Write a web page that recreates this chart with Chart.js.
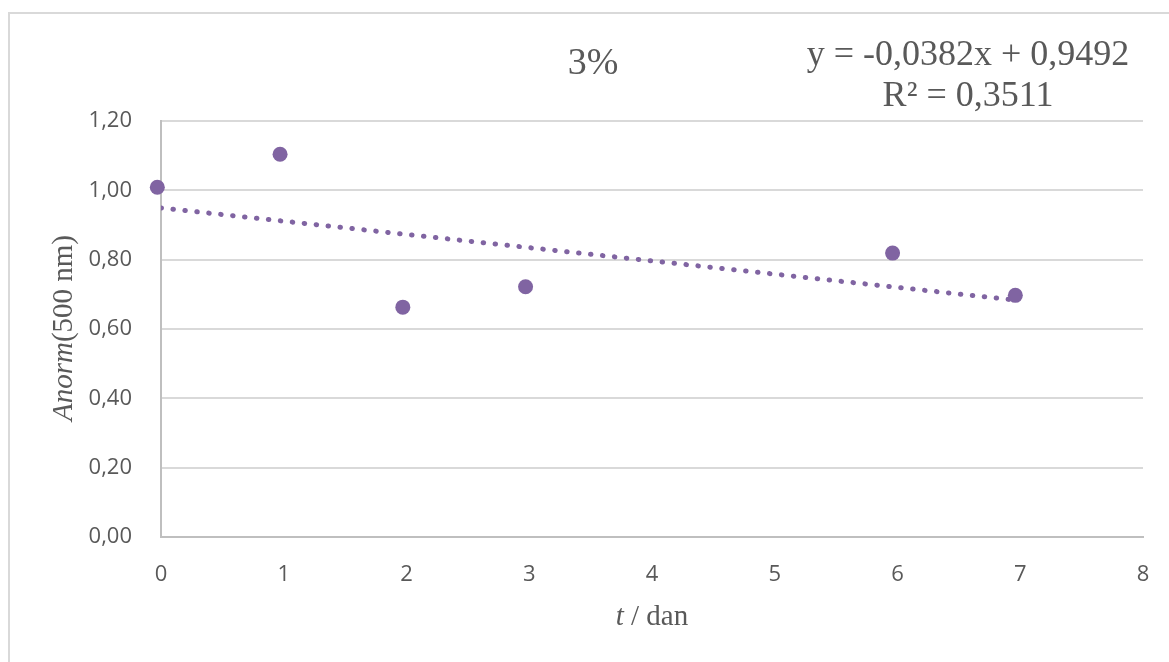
<!DOCTYPE html>
<html>
<head>
<meta charset="utf-8">
<script src="https://cdn.jsdelivr.net/npm/chart.js"></script>
<style>
    html, body { margin: 0; padding: 0; background: #fff; }
    #wrap { width: 1169px; height: 662px; position: relative; }
</style>
</head>
<body>
<div id="wrap"><canvas id="absChart"></canvas></div>
<script>
// measured data (t in days, normalised absorbance)
const days = [-0.03, 0.97, 1.97, 2.97, 5.96, 6.96];
const anorm = [1.009, 1.104, 0.663, 0.722, 0.819, 0.697];

// trendline as printed on the chart
const slope = -0.0382;
const intercept = 0.9492;
const eqLines = ['y = -0,0382x + 0,9492', 'R\u00b2 = 0,3511'];
const chartTitle = '3%';

const yTicks = [0, 0.2, 0.4, 0.6, 0.8, 1.0, 1.2];
const xTicks = [0, 1, 2, 3, 4, 5, 6, 7, 8];

const purple = '#8064a2';
const textGrey = '#595959';

const points = days.map((d, i) => ({ x: d, y: anorm[i] }));
const tStart = Math.max(0, Math.min(...days));
const tEnd = Math.max(...days);
const trend = [tStart, tEnd].map(x => ({ x: x, y: slope * x + intercept }));

// draws the frame, title, equation and the mixed italic axis titles
const textPlugin = {
    id: 'excelText',
    beforeDraw(chart) {
        const ctx = chart.ctx;
        ctx.save();
        ctx.fillStyle = '#fff';
        ctx.fillRect(0, 0, chart.width, chart.height);
        ctx.strokeStyle = '#d9d9d9';
        ctx.lineWidth = 2;
        ctx.strokeRect(9, 13, 1200, 700);
        ctx.restore();
    },
    afterDraw(chart) {
        const ctx = chart.ctx;
        const area = chart.chartArea;
        ctx.save();
        ctx.fillStyle = textGrey;
        ctx.textBaseline = 'alphabetic';

        // title
        ctx.textAlign = 'center';
        ctx.font = '38px "Liberation Serif"';
        ctx.fillText(chartTitle, 593, 74);

        // equation
        ctx.font = '36px "Liberation Serif"';
        ctx.fillText(eqLines[0], 968, 65);
        ctx.fillText(eqLines[1], 968, 106);

        // x title: "t / dan"
        ctx.textAlign = 'left';
        const xParts = [['italic 29px "Liberation Serif"', 't'], ['29px "Liberation Serif"', ' / dan']];
        drawParts(ctx, xParts, (area.left + area.right) / 2, 625);

        // y title: "Anorm(500 nm)"
        ctx.translate(72, (area.top + area.bottom) / 2 - 1);
        ctx.rotate(-Math.PI / 2);
        const yParts = [['italic 29px "Liberation Serif"', 'Anorm'], ['29px "Liberation Serif"', '(500 nm)']];
        drawParts(ctx, yParts, 0, 0);
        ctx.restore();
    }
};

function drawParts(ctx, parts, cx, y) {
    let total = 0;
    parts.forEach(p => { ctx.font = p[0]; total += ctx.measureText(p[1]).width; });
    let x = cx - total / 2;
    parts.forEach(p => {
        ctx.font = p[0];
        ctx.fillText(p[1], x, y);
        x += ctx.measureText(p[1]).width;
    });
}

const tickFont = { family: '"Open Sans"', size: 22 };

const ctx = document.getElementById('absChart').getContext('2d');
const absChart = new Chart(ctx, {
    type: 'scatter',
    data: {
        datasets: [{
            label: 'Anorm',
            data: points,
            backgroundColor: purple,
            borderWidth: 0,
            pointRadius: 7.5,
            pointHoverRadius: 7.5,
            clip: false,
            order: 1
        }, {
            label: 'trend',
            type: 'line',
            data: trend,
            borderColor: purple,
            borderWidth: 5,
            borderCapStyle: 'round',
            borderDash: [0.5, 11.5],
            pointRadius: 0,
            fill: false,
            tension: 0,
            order: 2
        }]
    },
    options: {
        responsive: true,
        maintainAspectRatio: false,
        animation: false,
        layout: {
            autoPadding: false,
            padding: { left: 0, top: 121, right: 26, bottom: 0 }
        },
        scales: {
            x: {
                type: 'linear',
                min: 0,
                max: 8,
                afterFit: s => { s.height = 125; s.paddingLeft = 0; s.paddingRight = 0; },
                afterBuildTicks: s => { s.ticks = xTicks.map(v => ({ value: v })); },
                ticks: {
                    color: textGrey,
                    font: tickFont,
                    padding: 25,
                    callback: v => String(v)
                },
                grid: { display: false, drawTicks: false },
                border: { display: true, color: '#bfbfbf', width: 2 }
            },
            y: {
                min: 0,
                max: 1.2,
                afterFit: s => { s.width = 161; s.paddingTop = 0; s.paddingBottom = 0; },
                afterBuildTicks: s => { s.ticks = yTicks.map(v => ({ value: v })); },
                ticks: {
                    color: textGrey,
                    font: tickFont,
                    padding: 29,
                    callback: v => v.toFixed(2).replace('.', ',')
                },
                grid: { color: '#d9d9d9', lineWidth: 2, drawTicks: false },
                border: { display: true, color: '#bfbfbf', width: 2 }
            }
        },
        plugins: {
            legend: { display: false },
            tooltip: { enabled: false },
            title: { display: false }
        }
    },
    plugins: [textPlugin]
});
</script>
</body>
</html>
